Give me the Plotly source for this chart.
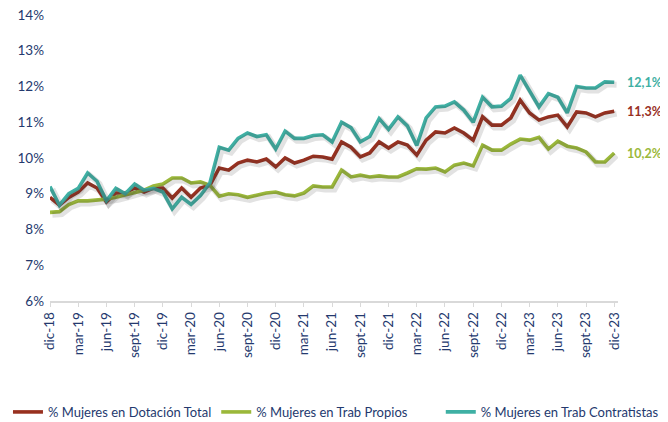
import plotly.graph_objects as go

months = [
    "dic-18", "ene-19", "feb-19", "mar-19", "abr-19", "may-19", "jun-19", "jul-19", "ago-19", "sept-19", "oct-19", "nov-19",
    "dic-19", "ene-20", "feb-20", "mar-20", "abr-20", "may-20", "jun-20", "jul-20", "ago-20", "sept-20", "oct-20", "nov-20",
    "dic-20", "ene-21", "feb-21", "mar-21", "abr-21", "may-21", "jun-21", "jul-21", "ago-21", "sept-21", "oct-21", "nov-21",
    "dic-21", "ene-22", "feb-22", "mar-22", "abr-22", "may-22", "jun-22", "jul-22", "ago-22", "sept-22", "oct-22", "nov-22",
    "dic-22", "ene-23", "feb-23", "mar-23", "abr-23", "may-23", "jun-23", "jul-23", "ago-23", "sept-23", "oct-23", "nov-23",
    "dic-23",
]

dotacion_total = [
    8.90, 8.68, 8.90, 9.05, 9.30, 9.16, 8.77, 9.02, 9.02, 9.16, 9.05, 9.16,
    9.16, 8.88, 9.16, 8.90, 9.16, 9.24, 9.72, 9.66, 9.86, 9.94, 9.89, 9.97,
    9.75, 10.00, 9.86, 9.94, 10.05, 10.03, 9.97, 10.45, 10.30, 10.03, 10.14, 10.45,
    10.28, 10.45, 10.36, 10.08, 10.50, 10.73, 10.70, 10.84, 10.70, 10.50, 11.15, 10.92,
    10.92, 11.12, 11.62, 11.26, 11.06, 11.15, 11.20, 10.87, 11.29, 11.26, 11.15, 11.26,
    11.31,
]

trab_propios = [
    8.48, 8.50, 8.70, 8.80, 8.80, 8.82, 8.85, 8.90, 8.97, 9.05, 9.10, 9.22,
    9.27, 9.44, 9.44, 9.30, 9.33, 9.24, 8.93, 9.00, 8.97, 8.90, 8.97, 9.02,
    9.05, 8.97, 8.94, 9.02, 9.22, 9.19, 9.19, 9.66, 9.47, 9.52, 9.47, 9.50,
    9.47, 9.47, 9.58, 9.70, 9.69, 9.72, 9.61, 9.80, 9.86, 9.78, 10.36, 10.22,
    10.22, 10.39, 10.53, 10.50, 10.58, 10.25, 10.47, 10.33, 10.28, 10.17, 9.89, 9.89,
    10.14,
]

trab_contratistas = [
    9.20, 8.68, 9.00, 9.15, 9.58, 9.35, 8.80, 9.15, 9.00, 9.27, 9.10, 9.15,
    9.05, 8.58, 8.90, 8.70, 8.95, 9.30, 10.30, 10.22, 10.55, 10.70, 10.60, 10.65,
    10.25, 10.75, 10.55, 10.55, 10.63, 10.65, 10.45, 11.00, 10.85, 10.45, 10.60, 11.10,
    10.80, 11.15, 10.90, 10.35, 11.12, 11.43, 11.45, 11.57, 11.34, 11.00, 11.70, 11.43,
    11.45, 11.67, 12.32, 11.85, 11.43, 11.80, 11.70, 11.26, 12.00, 11.96, 11.96, 12.13,
    12.12,
]

series_names = ["% Mujeres en Dotación Total", "% Mujeres en Trab Propios", "% Mujeres en Trab Contratistas"]
end_labels = ["11,3%", "10,2%", "12,1%"]
y_ticks = [6, 7, 8, 9, 10, 11, 12, 13, 14]
y_tick_labels = ["6%", "7%", "8%", "9%", "10%", "11%", "12%", "13%", "14%"]

colors = ["#98301F", "#9BB83A", "#3FB0A4"]
text_color = "#24396E"
font_family = "Lato, Carlito, 'Open Sans', sans-serif"

x_idx = list(range(len(months)))
tick_idx = x_idx[::3]
tick_txt = months[::3]
all_series = [dotacion_total, trab_propios, trab_contratistas]
legend_refs = ["legend", "legend", "legend2"]

fig = go.Figure()

# soft shadow (same data, drawn on an overlaid axis shifted a couple of pixels)
for vals in all_series:
    fig.add_trace(go.Scatter(x=x_idx, y=vals, mode="lines", xaxis="x2", yaxis="y2",
                             line=dict(color="rgba(60,60,60,0.15)", width=6),
                             showlegend=False, hoverinfo="skip"))

for name, vals, col, lg in zip(series_names, all_series, colors, legend_refs):
    fig.add_trace(go.Scatter(x=x_idx, y=vals, mode="lines", name=name, legend=lg,
                             line=dict(color=col, width=3.6)))

for vals, col, lab in zip(all_series, colors, end_labels):
    fig.add_annotation(x=x_idx[-1], y=vals[-1], text="<b>" + lab + "</b>", showarrow=False,
                       xanchor="left", yanchor="middle", xshift=11,
                       font=dict(color=col, size=12.5, family=font_family))

x_range = [0, 60.4]
y_range = [6, 14]
legend_font = dict(size=13, color=text_color, family=font_family)
fig.update_layout(
    width=660, height=414,
    margin=dict(l=42, r=50, t=7, b=121, autoexpand=False),
    paper_bgcolor="white", plot_bgcolor="white",
    font=dict(family=font_family, color=text_color, size=13),
    xaxis=dict(range=x_range, tickmode="array", tickvals=tick_idx, ticktext=tick_txt,
               tickangle=-90, showgrid=False, zeroline=False, showline=True,
               linecolor="#D9D9D9", linewidth=1.5, ticks="outside", ticklen=4,
               tickcolor="#D9D9D9", tickfont=dict(size=13.5, color=text_color),
               automargin=False),
    yaxis=dict(range=y_range, tickmode="array", tickvals=y_ticks, ticktext=y_tick_labels,
               showgrid=False, zeroline=False, showline=False, ticks="",
               ticklabelstandoff=5, ticklabeloverflow="allow",
               tickfont=dict(size=13.5, color=text_color), automargin=False),
    xaxis2=dict(range=[x_range[0] - 0.25, x_range[1] - 0.25], overlaying="x", visible=False),
    yaxis2=dict(range=[y_range[0] + 0.07, y_range[1] + 0.07], overlaying="y", visible=False),
    legend=dict(orientation="h", x=-0.074, xanchor="left", y=-0.388, yanchor="middle",
                font=legend_font, itemwidth=30, traceorder="normal",
                bgcolor="rgba(0,0,0,0)"),
    legend2=dict(orientation="h", x=0.688, xanchor="left", y=-0.388, yanchor="middle",
                 font=legend_font, itemwidth=30, bgcolor="rgba(0,0,0,0)"),
    showlegend=True,
)

fig.write_html("out.html")
